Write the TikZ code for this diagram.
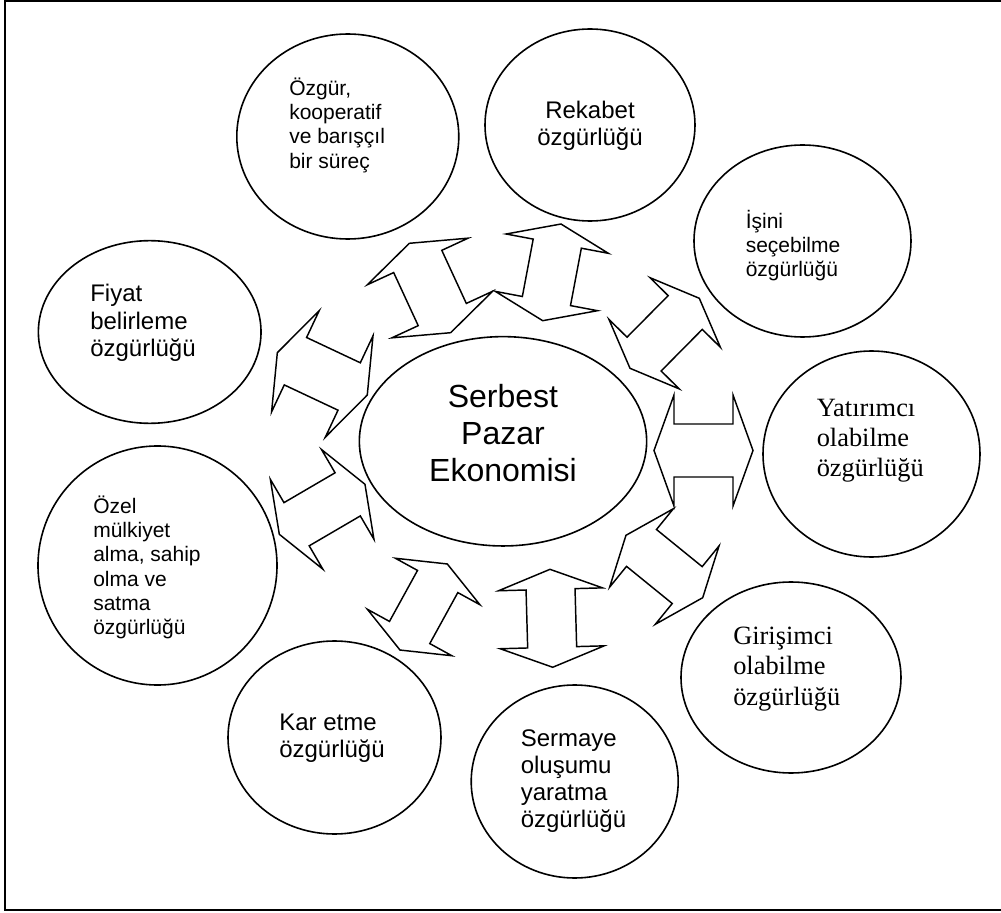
\documentclass[tikz,border=0pt]{standalone}
\usepackage{fontspec}
\setmainfont{Liberation Sans}
\newfontfamily\serifface{Liberation Serif}
\usetikzlibrary{shapes.geometric}

% stacked lines with a fixed baseline distance; the box baseline is the first line
\newcommand\leftlines[2]{\vtop{\baselineskip=#1\relax\lineskiplimit=-100pt\halign{##\hfil\cr#2\crcr}}}
\newcommand\centerlines[2]{\vtop{\baselineskip=#1\relax\lineskiplimit=-100pt\halign{\hfil##\hfil\cr#2\crcr}}}

\tikzset{
  bubble/.style={draw, ellipse, line width=1.2pt, inner sep=0pt},
  lbl/.style={inner sep=0pt, anchor=base west},
  clbl/.style={inner sep=0pt, anchor=base},
  txtsmall/.style={font=\fontsize{15.75pt}{18pt}\selectfont},
  txtmedium/.style={font=\fontsize{18pt}{20.7pt}\selectfont},
  txtlarge/.style={font=\fontsize{24pt}{28pt}\selectfont},
  txtserif/.style={font=\serifface\fontsize{19.8pt}{22.5pt}\selectfont},
  arrowline/.style={line width=1.1pt, line join=miter},
  % double-headed block arrow along the local x axis:
  % #1 = total length, #2 = head width, #3 = shaft width (head length 20)
  pics/dblarrow/.style n args={3}{code={
    \pgfmathsetmacro\hl{#1/2}
    \pgfmathsetmacro\hb{#1/2-20}
    \pgfmathsetmacro\hw{#2/2}
    \pgfmathsetmacro\sw{#3/2}
    \draw[arrowline] (\hl,0) -- (\hb,\hw) -- (\hb,\sw) -- (-\hb,\sw) -- (-\hb,\hw)
      -- (-\hl,0) -- (-\hb,-\hw) -- (-\hb,-\sw) -- (\hb,-\sw) -- (\hb,-\hw) -- cycle;
  }}
}

\begin{document}
\begin{tikzpicture}[x=0.75pt,y=-0.75pt]
\useasboundingbox (0,0) rectangle (1001,913);

% open frame (no right edge)
\draw[line width=1.5pt] (1001,1) -- (5,1) -- (5,910) -- (1001,910);

% central ellipse
\node[bubble, minimum width=215.5pt, minimum height=157pt] (core) at (503,441.3) {};
\node[clbl, txtlarge] (coreText) at (503,407)
  {\centerlines{28.1pt}{Serbest\cr Pazar\cr Ekonomisi}};

% surrounding freedoms
\node[bubble, minimum width=166.5pt, minimum height=153.75pt] (cOzgur) at (347.8,136.5) {};
\node[lbl, txtsmall] (tOzgur) at (289,95.7)
  {\leftlines{18.1pt}{Özgür,\cr kooperatif\cr ve barışçıl\cr bir süreç}};

\node[bubble, minimum width=157.5pt, minimum height=144pt] (cRekabet) at (590,125) {};
\node[clbl, txtmedium] (tRekabet) at (590,118.3)
  {\centerlines{20.3pt}{Rekabet\cr özgürlüğü}};

\node[bubble, minimum width=162.75pt, minimum height=144pt] (cIsini) at (802.5,241) {};
\node[lbl, txtsmall] (tIsini) at (745.5,228.3)
  {\leftlines{18.1pt}{İşini\cr seçebilme\cr özgürlüğü}};

\node[bubble, minimum width=162.75pt, minimum height=154.5pt] (cYatirim) at (871.5,454) {};
\node[lbl, txtserif] (tYatirim) at (816.5,416.7)
  {\leftlines{22.5pt}{Yatırımcı\cr olabilme\cr özgürlüğü}};

\node[bubble, minimum width=165pt, minimum height=143.25pt] (cGirisim) at (791,677.5) {};
\node[lbl, txtserif] (tGirisim) at (733,644.3)
  {\leftlines{22.8pt}{Girişimci\cr olabilme\cr özgürlüğü}};

\node[bubble, minimum width=155.25pt, minimum height=144.75pt] (cSermaye) at (574.7,781.5) {};
\node[lbl, txtmedium] (tSermaye) at (520.5,746.7)
  {\leftlines{20.3pt}{Sermaye\cr oluşumu\cr yaratma\cr özgürlüğü}};

\node[bubble, minimum width=159.75pt, minimum height=144.75pt] (cKar) at (334.5,737.5) {};
\node[lbl, txtmedium] (tKar) at (279,730)
  {\leftlines{20.7pt}{Kar etme\cr özgürlüğü}};

\node[bubble, minimum width=179.25pt, minimum height=179.25pt] (cOzel) at (157.5,565.5) {};
\node[lbl, txtsmall] (tOzel) at (93,513.3)
  {\leftlines{18.2pt}{Özel\cr mülkiyet\cr alma, sahip\cr olma ve\cr satma\cr özgürlüğü}};

\node[bubble, minimum width=167pt, minimum height=137pt] (cFiyat) at (149.7,332) {};
\node[lbl, txtmedium] (tFiyat) at (90,301.6)
  {\leftlines{20.7pt}{Fiyat\cr belirleme\cr özgürlüğü}};

% two-way arrows between the core and each freedom
\pic[rotate=114.8]  (aOzgur)   at (430,288)       {dblarrow={98.5}{111}{53}};
\pic[rotate=79.3]   (aRekabet) at (551.85,272.35) {dblarrow={98.4}{104}{49}};
\pic[rotate=45.3]   (aIsini)   at (664.65,333.3)  {dblarrow={98.5}{99}{48}};
\pic[rotate=0]      (aYatirim) at (703.5,450.5)   {dblarrow={99}{111}{53}};
\pic[rotate=-39.1]  (aGirisim) at (664.35,566.5)  {dblarrow={98.9}{101}{47.5}};
\pic[rotate=-88.4]  (aSermaye) at (551.35,618.3)  {dblarrow={98}{104}{49}};
\pic[rotate=-118.8] (aKar)     at (423.65,607)    {dblarrow={98.2}{96.5}{46}};
\pic[rotate=-149.7] (aOzel)    at (322.15,509.3)  {dblarrow={99.2}{104}{50}};
\pic[rotate=154.8]  (aFiyat)   at (322.3,373.85)  {dblarrow={99.4}{112}{52.4}};
\end{tikzpicture}
\end{document}
